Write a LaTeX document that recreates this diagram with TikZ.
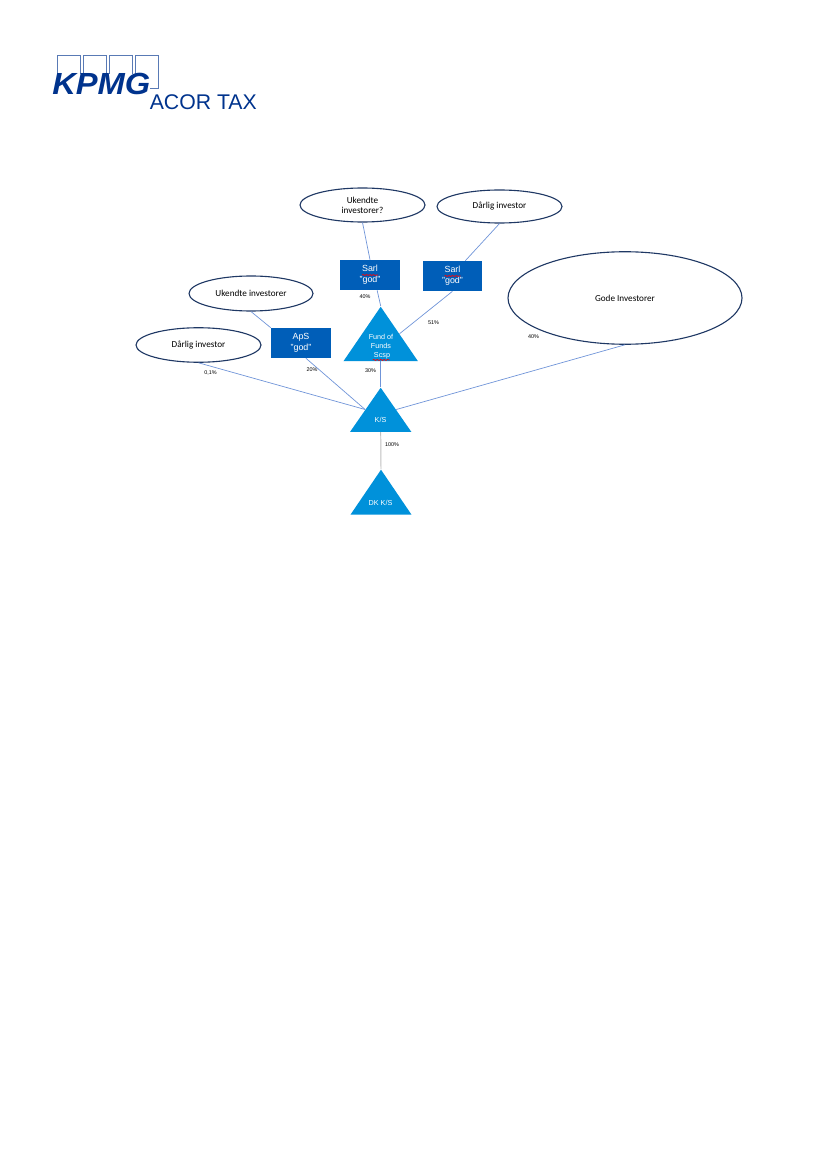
\documentclass[tikz,border=0pt]{standalone}
\usepackage{fontspec}
\setmainfont{Liberation Sans}
\newfontfamily\carlito{Carlito}
\usetikzlibrary{positioning}
\usetikzlibrary{shapes.geometric}
\usetikzlibrary{decorations.pathmorphing}
\definecolor{kpmgnavy}{HTML}{00338D}
\definecolor{kpmgblue}{HTML}{005EB8}
\definecolor{kpmgcyan}{HTML}{0091DA}
\definecolor{rimnavy}{HTML}{1F3864}
\definecolor{linkblue}{HTML}{6F94D8}
\tikzstyle{investor}=[ellipse,draw=rimnavy,fill=white,line width=0.8pt,inner sep=0pt,align=center,font=\carlito\fontsize{6.6}{7.4}\selectfont]
\tikzstyle{company}=[rectangle,fill=kpmgblue,text=white,inner sep=0pt,align=center,font=\fontsize{6.4}{7.8}\selectfont]
\tikzstyle{fund}=[isosceles triangle,isosceles triangle stretches=true,shape border rotate=90,fill=kpmgcyan,inner sep=0pt,anchor=apex]
\tikzstyle{fundtext}=[text=white,align=center,inner sep=0pt,font=\fontsize{5.2}{6.5}\selectfont]
\tikzstyle{link}=[draw,linkblue,line width=0.5pt]
\tikzstyle{graylink}=[draw,black!25,line width=0.7pt]
\tikzstyle{share}=[inner sep=0pt,font=\fontsize{3.9}{5}\selectfont]
\tikzstyle{spell}=[draw=red,line width=0.5pt,decorate,decoration={snake,amplitude=0.35pt,segment length=2.5pt}]
\tikzstyle{logobox}=[rectangle,draw=kpmgnavy!65,line width=0.4pt,inner sep=0pt,minimum width=16.6pt,minimum height=23.5pt]
\begin{document}
\begin{tikzpicture}[x=0.72pt,y=-0.72pt]
    \useasboundingbox (0,0) rectangle (827,1170);

    % Logo squares and the two words
    \foreach \pos/\name in {{(69,71.5)/boxA}, {(95,71.5)/boxB}, {(121,71.5)/boxC}, {(147,71.5)/boxD}}
        \node[logobox] (\name) at \pos {};
    \node[inner sep=0pt,fill=white,text=kpmgnavy,anchor=base west,xscale=1.07,font=\fontsize{22}{22}\selectfont\bfseries\itshape] (kpmg) at (52,95) {KPMG};
    \node[inner sep=0pt,text=kpmgnavy,anchor=base west,font=\fontsize{15.3}{15.3}\selectfont] (acor) at (149.5,110) {ACOR TAX};

    % First the investors
    \foreach \pos/\name/\wid/\hei/\txt in {{(362.5,205)/ukendteA/125/34/{Ukendte\\investorer?}}, {(499.5,206.5)/darligA/125/33/{Dårlig investor}}, {(251,293.5)/ukendteB/124/35/{Ukendte investorer}}, {(198.5,345)/darligB/125/34.5/{Dårlig investor}}, {(625,298)/gode/234/92.5/{Gode Investorer}}}
        \node[investor,minimum width=\wid*0.72pt,minimum height=\hei*0.72pt] (\name) at \pos {\txt};

    % Then the companies
    \foreach \pos/\name/\wid/\txt in {{(370,275)/sarlA/60/{Sarl\\"god"}}, {(452.5,276)/sarlB/59/{Sarl\\"god"}}, {(301,343)/aps/60/{ApS\\"god"}}}
        \node[company,minimum width=\wid*0.72pt,minimum height=21.6pt] (\name) at \pos {\txt};

    % The triangles, with their text on top
    \node[fund,minimum width=53.6pt,minimum height=39.2pt] (fof) at (380.7,306) {};
    \node[fund,minimum width=44pt,minimum height=31.7pt] (ks) at (380.7,387) {};
    \node[fund,minimum width=44pt,minimum height=32.4pt] (dkks) at (381,469) {};
    \node[fundtext] (foftext) at (381,347) {Fund of\\Funds\\\ Scsp};
    \node[fundtext] (kstext) at (380.5,420) {K/S};
    \node[fundtext] (dkkstext) at (380.5,503) {DK K/S};

    % Connect everything
    \foreach \source/ \dest in {ukendteA.south/sarlA.north, sarlA.-65/fof.apex, darligA.south/sarlB.50, sarlB.south/fof.right side, ukendteB.south/aps.north west, aps.-72/ks.left side, darligB.south/ks.left side, gode.south/ks.right side, fof.south/ks.apex}
        \path[link] (\source) -- (\dest);
    \path[graylink] (ks.south) -- (dkks.apex);

    % Shares on the connectors
    \foreach \pos/\name/\txt in {{(365,297)/shareA/40\%}, {(433.5,323)/shareB/51\%}, {(533.5,336.5)/shareC/40\%}, {(370.5,371)/shareD/30\%}, {(312,369.5)/shareE/20\%}, {(210.5,373)/shareF/{0,1\%}}, {(392,445)/shareG/100\%}}
        \node[share] (\name) at \pos {\txt};

    % Red marks under the words the spell checker did not like
    \draw[spell] (sarlA.center) ++(-8,0) -- ++(16,0);
    \draw[spell] (sarlB.center) ++(-8,0) -- ++(16,0);
    \draw[spell] (fof.south) ++(-8,-1.5) -- ++(17,0);

\end{tikzpicture}
\end{document}
